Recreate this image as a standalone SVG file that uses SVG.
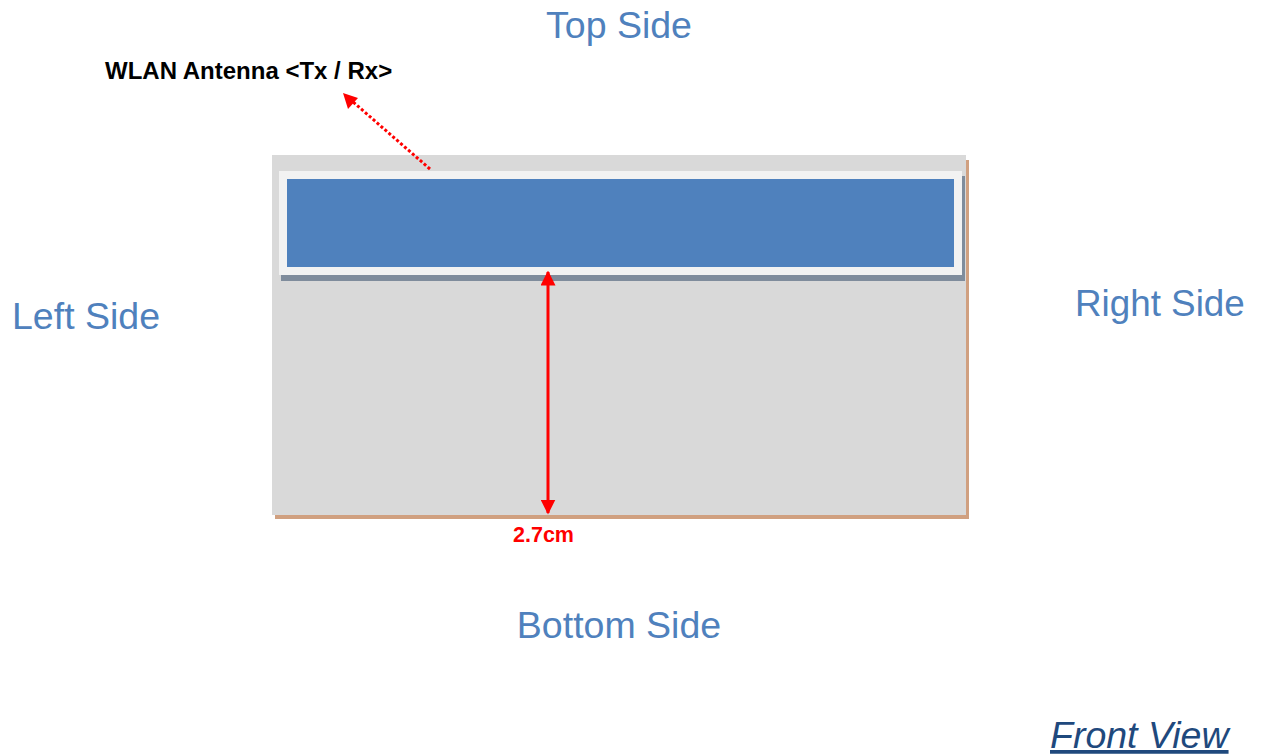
<svg xmlns="http://www.w3.org/2000/svg" width="1264" height="755" viewBox="0 0 1264 755">
<defs>
<style>
.side{font-family:"Liberation Sans",Arial,sans-serif;font-size:37.5px;fill:#4f81bd;}
.lbl{font-family:"Liberation Sans",Arial,sans-serif;font-weight:bold;}
</style>
<marker id="ah" viewBox="0 0 10 10" refX="9" refY="5" markerWidth="5" markerHeight="5" orient="auto-start-reverse" markerUnits="strokeWidth">
<path d="M0,0 L10,5 L0,10 Z" fill="#ff0000"/>
</marker>
</defs>
<rect width="1264" height="755" fill="#ffffff"/>
<g id="board">
<rect x="275" y="160" width="694" height="359" fill="#d0a080"/>
<rect x="272" y="155" width="694" height="360" fill="#d9d9d9"/>
</g>
<g id="antenna">
<rect x="281" y="176" width="684" height="105" fill="#7f8c9c"/>
<rect x="279" y="171" width="683" height="104" fill="#f2f2f2"/>
<rect x="287" y="179" width="667" height="88" fill="#4f81bd"/>
</g>
<g id="connectors">
<line x1="548" y1="513" x2="548" y2="272" stroke="#ff0000" stroke-width="3" marker-start="url(#ah)" marker-end="url(#ah)"/>
<line x1="430" y1="169" x2="352" y2="101" stroke="#ff0000" stroke-width="3" stroke-dasharray="3 2.2"/>
<path d="M343,93 L358,98 L348,109 Z" fill="#ff0000"/>
</g>
<g id="labels">
<text class="side" x="619" y="38" text-anchor="middle">Top Side</text>
<text class="side" x="12" y="329">Left Side</text>
<text class="side" x="1075" y="316" style="font-size:36.8px">Right Side</text>
<text class="side" x="619" y="638" text-anchor="middle">Bottom Side</text>
<text x="1050" y="748" font-family="'Liberation Sans',Arial,sans-serif" font-size="37.5" font-style="italic" fill="#1f497d" text-decoration="underline">Front View</text>
<text class="lbl" x="105" y="79" font-size="24" fill="#000000">WLAN Antenna &lt;Tx / Rx&gt;</text>
<text class="lbl" x="513" y="542" font-size="21.5" fill="#ff0000">2.7cm</text>
</g>
</svg>
